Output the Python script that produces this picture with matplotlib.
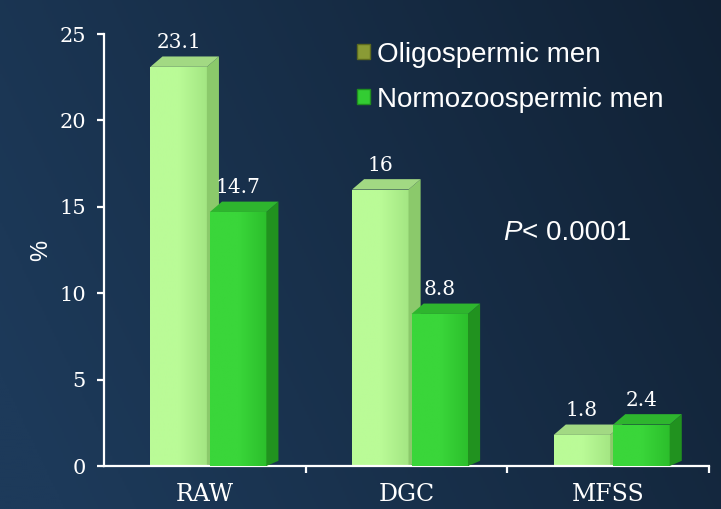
import numpy as np
import matplotlib.pyplot as plt
from matplotlib.patches import Polygon, Patch
from matplotlib.colors import LinearSegmentedColormap

categories = ["RAW", "DGC", "MFSS"]
oligo = [23.1, 16, 1.8]
normo = [14.7, 8.8, 2.4]
series_names = ["Oligospermic men", "Normozoospermic men"]
yticks = [0, 5, 10, 15, 20, 25]

W, H = 721, 509
fig = plt.figure(figsize=(W / 100, H / 100), dpi=100)

# dark blue background, brighter on the left
bg = fig.add_axes([0, 0, 1, 1], zorder=0)
gx, gy = np.meshgrid(np.linspace(0, 1, 360), np.linspace(0, 1, 260))
shade = np.clip(0.85 - 0.6 * gx + 0.2 * gy, 0, 1)
bg_cmap = LinearSegmentedColormap.from_list("bg", ["#0d1928", "#1d3a5a"])
bg.imshow(shade, cmap=bg_cmap, aspect="auto", extent=(0, 1, 0, 1), vmin=0, vmax=1)
bg.axis("off")

ax = fig.add_axes([104 / W, 43 / H, 605 / W, 432 / H], zorder=1)
ax.set_facecolor("none")

x = np.arange(len(categories))
w = 0.28
offs = [-0.13, 0.165]
dx, dy = 0.06, 0.6

styles = [
    # front left, front right, side, top
    ("#bafb97", "#a4e683", "#8bc96b", "#a2d983"),
    ("#3ad63a", "#2cbf2c", "#21921f", "#2eb52e"),
]


def draw_bars(vals, off, st, z):
    bars = ax.bar(x + off, vals, w, color=st[0], zorder=z, linewidth=0)
    for b in bars:
        x0, x1, h = b.get_x(), b.get_x() + b.get_width(), b.get_height()
        grad = np.linspace(0, 1, 50)[None, :]
        cm = LinearSegmentedColormap.from_list("f", [st[0], st[0], st[1]])
        im = ax.imshow(grad, cmap=cm, aspect="auto", extent=(x0, x1, 0, h),
                       zorder=z, interpolation="bilinear")
        im.set_clip_path(b)
        side = Polygon([(x1, 0), (x1 + dx, dy * 0.5), (x1 + dx, h + dy), (x1, h)],
                       closed=True, color=st[2], zorder=z, linewidth=0)
        top = Polygon([(x0, h), (x0 + dx, h + dy), (x1 + dx, h + dy), (x1, h)],
                      closed=True, color=st[3], zorder=z, linewidth=0)
        ax.add_patch(side)
        ax.add_patch(top)
        ax.text(x0 + (x1 - x0) / 2, h + dy + 0.25, f"{h:g}", ha="center", va="bottom",
                color="white", fontsize=14.5, family="DejaVu Serif", zorder=z + 5)


draw_bars(oligo, offs[0], styles[0], 2)
draw_bars(normo, offs[1], styles[1], 3)

ax.set_xlim(-0.5, 2.5)
ax.set_ylim(0, 25)
ax.set_yticks(yticks)
ax.set_xticks(x)
ax.set_xticklabels(categories)
ax.set_xticks([0.5, 1.5, 2.5], minor=True)

for s in ["top", "right"]:
    ax.spines[s].set_visible(False)
for s in ["left", "bottom"]:
    ax.spines[s].set_color("white")
    ax.spines[s].set_linewidth(1.6)
ax.tick_params(axis="y", colors="white", length=5, width=1.6, pad=8,
               labelsize=15, direction="out")
ax.tick_params(axis="x", which="major", length=0, pad=12, colors="white", labelsize=17)
ax.tick_params(axis="x", which="minor", length=5, width=1.6, colors="white", direction="out")
for lab in ax.get_xticklabels() + ax.get_yticklabels():
    lab.set_family("DejaVu Serif")

ax.set_ylabel("%", color="white", fontsize=17, family="Liberation Sans", labelpad=5)

handles = [Patch(facecolor="#8a9b35", edgecolor="#5d6b1f"),
           Patch(facecolor="#33cc33", edgecolor="#1f8f1f")]
leg = ax.legend(handles, series_names, loc="upper left", bbox_to_anchor=(0.40, 1.008),
                frameon=False, handlelength=0.45, handleheight=0.45, handletextpad=0.25,
                labelspacing=0.68, borderaxespad=0,
                prop={"family": "Liberation Sans", "size": 20})
for t in leg.get_texts():
    t.set_color("white")

pt = ax.text(0.66, 0.51, "P", style="italic", color="white", fontsize=20,
             family="Liberation Sans", transform=ax.transAxes, va="bottom")
ax.annotate("< 0.0001", xy=(1, 0), xycoords=pt, ha="left", va="bottom",
            color="white", fontsize=20, family="Liberation Sans")

fig.savefig("out.png", dpi=100)
